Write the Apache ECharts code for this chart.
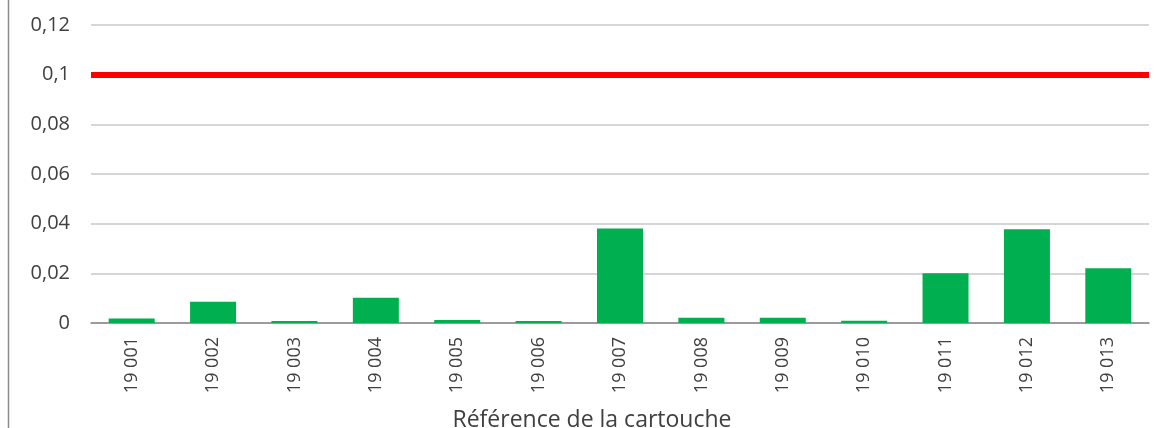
<!DOCTYPE html>
<html>
<head>
<meta charset="utf-8">
<script src="https://cdn.jsdelivr.net/npm/echarts@6/dist/echarts.min.js"></script>
<style>
html, body { margin: 0; padding: 0; background: #fff; }
#chart { width: 1165px; height: 428px; }
</style>
</head>
<body>
<div id="chart"></div>
<script>
// données
var categories = ['19 001', '19 002', '19 003', '19 004', '19 005', '19 006', '19 007',
                  '19 008', '19 009', '19 010', '19 011', '19 012', '19 013'];
var values = [0.0018, 0.0086, 0.0008, 0.0102, 0.0012, 0.0008, 0.0381,
              0.0021, 0.0021, 0.0009, 0.0200, 0.0378, 0.0220];
var seuil = 0.1;
var yTicks = { min: 0, max: 0.12, interval: 0.02 };
var xTitle = 'Référence de la cartouche';

var dom = document.getElementById('chart');
var myChart = echarts.init(dom);
var option = {
    animation: false,
    textStyle: { fontFamily: '"Open Sans", "Liberation Sans", sans-serif' },
    grid: {
        left: 91,
        right: 16,
        top: 25,
        bottom: 105,
        outerBoundsMode: 'none'
    },
    graphic: [{
        type: 'line',
        shape: { x1: 8.5, y1: 0, x2: 8.5, y2: 428 },
        style: { stroke: '#8c8c8c', lineWidth: 1.5 }
    }],
    xAxis: {
        type: 'category',
        data: categories,
        name: xTitle,
        nameLocation: 'middle',
        nameGap: 86,
        nameTextStyle: {
            color: '#404040',
            fontSize: 23,
            padding: [0, 56, 0, 0]
        },
        axisLine: { lineStyle: { color: '#888888', width: 1.5 } },
        axisTick: { show: false },
        axisLabel: {
            rotate: 90,
            margin: 14,
            color: '#404040',
            fontSize: 18
        }
    },
    yAxis: {
        type: 'value',
        min: yTicks.min,
        max: yTicks.max,
        interval: yTicks.interval,
        axisLine: { show: false },
        axisTick: { show: false },
        splitLine: { lineStyle: { color: '#c8c8c8', width: 1.5 } },
        axisLabel: {
            margin: 21,
            color: '#404040',
            fontSize: 20,
            formatter: function (v) {
                return String(+v.toFixed(3)).replace('.', ',');
            }
        }
    },
    series: [{
        type: 'bar',
        data: values,
        barWidth: 46,
        itemStyle: { color: '#00b050' },
        markLine: {
            silent: true,
            symbol: 'none',
            label: { show: false },
            lineStyle: { color: '#ff0000', width: 6, type: 'solid' },
            emphasis: { disabled: true },
            data: [{ yAxis: seuil }]
        }
    }]
};
myChart.setOption(option, true);
window.onresize = function () { myChart.resize(); };
</script>
</body>
</html>
